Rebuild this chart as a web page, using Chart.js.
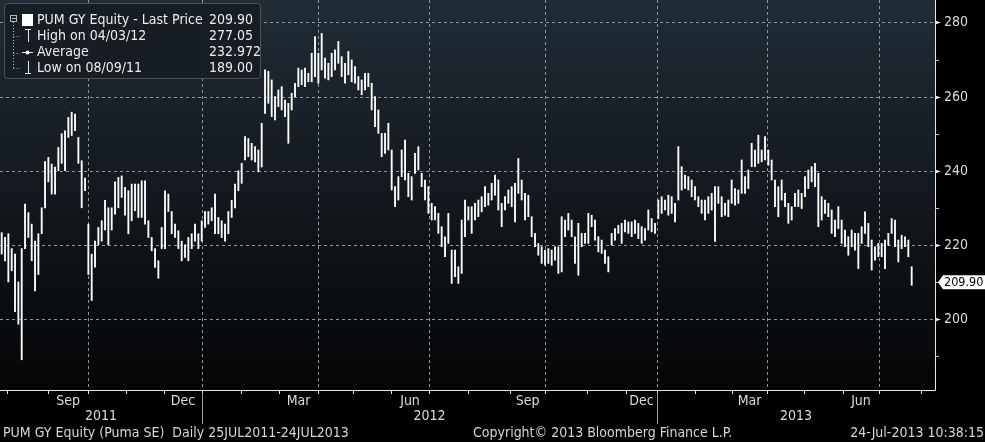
<!DOCTYPE html>
<html>
<head>
<meta charset="utf-8">
<title>PUM GY Equity</title>
<script src="https://cdn.jsdelivr.net/npm/chart.js"></script>
<style>
  html, body { margin: 0; padding: 0; background: #000; }
  canvas { display: block; }
</style>
</head>
<body>
<canvas id="chart" width="985" height="442"></canvas>
<script>
// high / low of each bar (about two trading days per bar), 25JUL2011 - 24JUL2013
const highs = [
  223.3, 222, 223, 219, 217.5, 210, 219, 231, 228.7, 225.6, 221, 223, 230, 242.5, 243.6, 241.8,
  241, 246.3, 250, 250.8, 254.4, 255.8, 255.3, 249, 242.7, 238, 225.6, 217.5, 221, 224.7, 226.5, 232,
  230, 230, 237, 238.2, 238.6, 235.5, 234.6, 236.4, 236.4, 236.4, 237.3, 237.3, 226.5, 222, 219, 215.7,
  224.7, 234.6, 233.7, 229, 225.6, 223.8, 221, 220, 222, 223, 225.6, 223, 226.5, 229, 229, 230,
  233.7, 227.4, 226.5, 225.6, 229, 232, 236.4, 240,
  242, 249.2, 248.7, 247.4, 246.5, 245.6, 252.8, 267.2, 266.8, 264.5, 260, 261.8, 262.7, 259.1, 258.2, 260.9,
  263.6, 267.7, 267.2, 267.7, 266.3, 271.7, 276.2, 271.7, 277.05, 270.4, 269, 271.7, 272.6, 274.9, 270.8, 269,
  272.2, 269.9, 268.1, 265.4, 264.5, 266.3, 266.3, 263.6, 260, 256.4, 250.1, 250.1, 252.8, 245.6, 235.7, 238.4,
  245.6, 248.3, 239.3, 238.4, 244.7, 246.5, 239.3, 237.5, 235.7, 231.2, 230.3, 228.5, 224.9, 222.2, 228.5, 218.6,
  218.6, 214.1, 226.7, 232.1, 230.3, 230.3, 231.2, 232.1,
  233, 235.7, 233.9, 236.6, 238.8, 237.5, 231.2, 233, 234.8, 235.7, 236.6, 243.3, 237.5, 233.9, 233.4, 227.6,
  223.1, 220.4, 219.5, 218.6, 219, 218.6, 219.5, 219.5, 227.6, 226.7, 228.5, 226.7, 222.2, 225.8, 223.1, 223.1,
  228.5, 228, 226.7, 222.2, 221.3, 218.6, 216.8, 223.1, 224.4, 225.3, 225.8, 226.7, 226.2, 226.2, 226.7, 225.8,
  224.9, 224.4, 229.4, 227.1, 225.8, 232.1, 233, 232.1, 233.4, 233, 231.2, 246.5, 241.1, 238.8, 238.4, 237.5,
  235.7, 233, 232.1, 232.1, 233, 233.9, 235.7, 235.7,
  233, 231.2, 232.1, 237.5, 235.2, 234.8, 242.9, 238.4, 240.2, 247.4, 245.6, 249.6, 245.6, 249.2, 245.6, 242.9,
  237.5, 235.7, 237.5, 233.9, 231.2, 230.3, 233.9, 234.8, 233.9, 238.4, 240.2, 241.1, 242, 239.3, 233, 232.1,
  231.2, 229.4, 226.7, 230.3, 226.7, 224, 222.2, 224, 223.1, 223.1, 224.9, 228.9, 225.8, 221.3, 219.5, 220.4,
  220.4, 221.3, 223.1, 227.1, 226.7, 221.3, 222.6, 222.2, 221.3, 214.1
];
const lows = [
  217.5, 215.7, 210, 213, 202, 198.6, 189, 219, 222, 215.7, 207.6, 212, 223, 230, 237, 233.7,
  233.7, 240, 242, 240, 249, 249.5, 250.8, 242, 230, 234.6, 212, 205, 214, 220, 221, 224,
  220, 224, 228.3, 230, 232.8, 228, 223, 226.5, 229.2, 227.4, 227.4, 225.6, 222, 218.4, 213.9, 211,
  219, 219, 229, 223, 222, 219, 215.7, 216.6, 215.7, 219, 221, 219, 221, 224.7, 225.6, 226.5,
  223, 223, 222, 221, 223, 227.4, 230, 234.6,
  236.6, 242.9, 243.8, 242.9, 242.4, 239.7, 241, 255.5, 258.2, 254.6, 253.7, 257.3, 256.4, 254.6, 247.4, 256.4,
  260, 262.7, 263.2, 262.7, 264, 264, 265.4, 263.6, 267.2, 265, 264.5, 265.4, 267.2, 269, 265.4, 263.6,
  265.9, 264, 263.6, 261.8, 260.5, 261.8, 262.7, 256.4, 251.9, 250.1, 243.8, 244.7, 245.6, 234.8, 230.3, 232.1,
  238.4, 237.5, 233, 232.1, 239.3, 240.2, 235.7, 232.1, 228.5, 226.7, 226.7, 223.1, 219.5, 216.8, 220.4, 209.6,
  211.4, 209.6, 212.3, 222.2, 226.7, 223.1, 226.7, 227.6,
  228.9, 230.3, 230.7, 232.1, 233.4, 229.4, 224.9, 229.4, 231.2, 230.3, 226.2, 233.9, 232.1, 226.7, 227.6, 222.2,
  219.5, 217.2, 215, 214.5, 215, 214.5, 215.9, 212.3, 212.7, 222.2, 224, 222.2, 215, 211.8, 219.5, 220.4,
  220.4, 224.9, 221.3, 218.1, 217.7, 215, 212.7, 219.9, 221.3, 223.1, 220.4, 223.5, 223.1, 222.2, 223.1, 221.7,
  220.4, 221.3, 224, 223.5, 223.1, 227.1, 228.5, 229.4, 228, 228.5, 226.2, 232.1, 234.8, 235.2, 234.8, 233,
  232.1, 230.3, 228.5, 226.7, 228.5, 229.4, 220.9, 231.2,
  227.6, 228, 227.6, 231.2, 230.7, 231.2, 233.9, 233.9, 235.2, 241.1, 241.1, 242, 242.4, 242.9, 241.5, 237.5,
  230.3, 227.6, 232.1, 230.3, 225.8, 226.7, 230.3, 230.3, 229.8, 233, 235.2, 237, 235.7, 224.9, 226.7, 228.5,
  227.6, 223.1, 222.2, 224.4, 220.4, 219.5, 217.2, 219.5, 218.6, 213.6, 220.4, 223.1, 219.5, 213.2, 215.9, 216.8,
  216.8, 213.6, 219.9, 223.1, 219.5, 215.4, 219, 219.5, 216.8, 209.1
];

// month starts, in bar positions
const monthNames = ['Aug','Sep','Oct','Nov','Dec','Jan','Feb','Mar','Apr','May','Jun','Jul',
                    'Aug','Sep','Oct','Nov','Dec','Jan','Feb','Mar','Apr','May','Jun','Jul','Aug'];
const monthStarts = [1.6, 13.9, 25.9, 37.3, 48.7, 60.1, 71.8, 83.2, 94.9, 105.4, 116.8, 128.2,
                     139.9, 152.5, 163.0, 175.6, 187.3, 196.6, 208.0, 219.1, 229.6, 240.7, 252.4, 263.2, 275.8];
const years = ['2011', '2012', '2013'];
const yTicks = [200, 220, 240, 260, 280];
const yMinorTicks = [190, 210, 230, 250, 270];

const lastPrice = 209.90;
const legendRows = [
  ['PUM GY Equity - Last Price', '209.90'],
  ['High on 04/03/12', '277.05'],
  ['Average', '232.972'],
  ['Low on 08/09/11', '189.00']
];
const footerLeft = 'PUM GY Equity (Puma SE)  Daily 25JUL2011-24JUL2013';
const footerMid = 'Copyright\u00a9 2013 Bloomberg Finance L.P.';
const footerRight = '24-Jul-2013 10:38:15';

const FONT = '"Liberation Sans Narrow", "DejaVu Sans Condensed", "Liberation Sans", sans-serif';

const bars = highs.map(function(h, i) { return { x: i, y: [lows[i], h] }; });

// background, grid, axes, legend and footer drawn around the bars
const frame = {
  id: 'frame',
  beforeDraw(chart) {
    const ctx = chart.ctx, a = chart.chartArea;
    ctx.save();
    ctx.fillStyle = '#000';
    ctx.fillRect(0, 0, chart.width, chart.height);
    const g = ctx.createLinearGradient(0, a.top, 0, a.bottom);
    g.addColorStop(0, '#212c35');
    g.addColorStop(1, '#040506');
    ctx.fillStyle = g;
    ctx.fillRect(a.left, a.top, a.right - a.left, a.bottom - a.top);
    ctx.restore();
  },
  beforeDatasetsDraw(chart) {
    const ctx = chart.ctx, a = chart.chartArea;
    const x = chart.scales.x, y = chart.scales.y;
    ctx.save();
    ctx.strokeStyle = '#8d949a';
    ctx.lineWidth = 1;
    ctx.setLineDash([3, 3]);
    yTicks.forEach(function(v) {
      const py = Math.round(y.getPixelForValue(v)) + 0.5;
      ctx.beginPath(); ctx.moveTo(a.left, py); ctx.lineTo(a.right, py); ctx.stroke();
    });
    monthNames.forEach(function(m, i) {
      if (['Oct', 'Jan', 'Apr', 'Jul'].indexOf(m) < 0) return;
      const px = Math.round(x.getPixelForValue(monthStarts[i])) + 0.5;
      if (px > a.right) return;
      ctx.beginPath(); ctx.moveTo(px, a.top); ctx.lineTo(px, a.bottom); ctx.stroke();
    });
    ctx.restore();
  },
  afterDraw(chart) {
    const ctx = chart.ctx, a = chart.chartArea;
    const x = chart.scales.x, y = chart.scales.y;
    ctx.save();
    ctx.setLineDash([]);

    // axis lines
    ctx.strokeStyle = '#e6e6e6';
    ctx.lineWidth = 1;
    ctx.beginPath();
    ctx.moveTo(a.left, a.bottom + 0.5); ctx.lineTo(a.right + 0.5, a.bottom + 0.5);
    ctx.lineTo(a.right + 0.5, a.top);
    ctx.stroke();

    // y ticks and labels
    ctx.font = '14px ' + FONT;
    ctx.textBaseline = 'middle';
    ctx.textAlign = 'left';
    yTicks.forEach(function(v) {
      const py = Math.round(y.getPixelForValue(v)) + 0.5;
      ctx.fillStyle = '#e6e6e6';
      ctx.beginPath();
      ctx.moveTo(a.right, py - 2); ctx.lineTo(a.right + 6, py); ctx.lineTo(a.right, py + 2);
      ctx.closePath(); ctx.fill();
      ctx.fillStyle = '#dcdcdc';
      ctx.fillText(String(v), a.right + 9, py);
    });
    ctx.strokeStyle = '#bfbfbf';
    yMinorTicks.forEach(function(v) {
      const py = Math.round(y.getPixelForValue(v)) + 0.5;
      ctx.beginPath(); ctx.moveTo(a.right, py); ctx.lineTo(a.right + 4, py); ctx.stroke();
    });

    // last price tag
    const ty = y.getPixelForValue(lastPrice);
    ctx.fillStyle = '#ffffff';
    ctx.beginPath();
    ctx.moveTo(a.right + 3, ty);
    ctx.lineTo(a.right + 8, ty - 7);
    ctx.lineTo(chart.width, ty - 7);
    ctx.lineTo(chart.width, ty + 7);
    ctx.lineTo(a.right + 8, ty + 7);
    ctx.closePath(); ctx.fill();
    ctx.fillStyle = '#000';
    ctx.font = '12.5px ' + FONT;
    ctx.fillText(lastPrice.toFixed(2), a.right + 9, ty + 0.5);
    ctx.font = '14px ' + FONT;

    // x ticks, month and year labels
    ctx.strokeStyle = '#e6e6e6';
    ctx.textAlign = 'center';
    ctx.fillStyle = '#dcdcdc';
    monthNames.forEach(function(m, i) {
      const px = Math.round(x.getPixelForValue(monthStarts[i])) + 0.5;
      ctx.beginPath(); ctx.moveTo(px, a.bottom); ctx.lineTo(px, a.bottom + 4); ctx.stroke();
      if (['Sep', 'Dec', 'Mar', 'Jun'].indexOf(m) >= 0 && i + 1 < monthStarts.length) {
        const cx = (x.getPixelForValue(monthStarts[i]) + x.getPixelForValue(monthStarts[i + 1])) / 2;
        ctx.fillText(m, cx, a.bottom + 11);
      }
    });
    const yearEdges = [a.left];
    monthNames.forEach(function(m, i) {
      if (m === 'Jan') yearEdges.push(x.getPixelForValue(monthStarts[i]));
    });
    yearEdges.push(a.right);
    ctx.strokeStyle = '#9a9a9a';
    years.forEach(function(yr, i) {
      ctx.fillText(yr, (yearEdges[i] + yearEdges[i + 1]) / 2, a.bottom + 26);
      if (i > 0) {
        const px = Math.round(yearEdges[i]) + 0.5;
        ctx.beginPath(); ctx.moveTo(px, a.bottom + 3); ctx.lineTo(px, a.bottom + 34); ctx.stroke();
      }
    });

    // footer
    ctx.fillStyle = '#d6d6d6';
    ctx.textAlign = 'left';
    ctx.fillText(footerLeft, 3, chart.height - 9);
    ctx.fillText(footerMid, 473, chart.height - 9);
    ctx.textAlign = 'right';
    ctx.fillText(footerRight, chart.width - 1, chart.height - 9);

    // legend box
    ctx.fillStyle = 'rgba(22, 29, 35, 0.92)';
    ctx.strokeStyle = '#4a5259';
    ctx.beginPath();
    ctx.roundRect(4.5, 3.5, 256, 75, 3);
    ctx.fill(); ctx.stroke();

    const rowY = [20.5, 36, 52.5, 68];
    ctx.strokeStyle = '#b8b8b8';
    ctx.setLineDash([1, 2]);
    ctx.beginPath();
    ctx.moveTo(13.5, 22); ctx.lineTo(13.5, rowY[3]);
    for (let r = 1; r < 4; r++) { ctx.moveTo(13.5, Math.round(rowY[r]) + 0.5); ctx.lineTo(20, Math.round(rowY[r]) + 0.5); }
    ctx.stroke();
    ctx.setLineDash([]);
    ctx.strokeRect(10.5, 15.5, 6, 6);
    ctx.beginPath(); ctx.moveTo(12, 18.5); ctx.lineTo(16, 18.5); ctx.stroke();

    ctx.fillStyle = '#ffffff';
    ctx.fillRect(22, 14, 11, 12);
    ctx.strokeStyle = '#e8e8e8';
    ctx.beginPath();
    ctx.moveTo(25, 29.5); ctx.lineTo(31, 29.5); ctx.moveTo(28.5, 29.5); ctx.lineTo(28.5, 42);
    ctx.moveTo(22, 52.5); ctx.lineTo(33, 52.5);
    ctx.moveTo(28.5, 61); ctx.lineTo(28.5, 73.5); ctx.moveTo(25, 73.5); ctx.lineTo(31, 73.5);
    ctx.stroke();
    ctx.beginPath(); ctx.arc(27.5, 52.5, 2, 0, Math.PI * 2); ctx.fill();

    ctx.fillStyle = '#ececec';
    ctx.textAlign = 'left';
    legendRows.forEach(function(row, r) {
      ctx.fillText(row[0], 37, rowY[r]);
      ctx.fillText(row[1], 209, rowY[r]);
    });
    ctx.restore();
  }
};

new Chart(document.getElementById('chart').getContext('2d'), {
  type: 'bar',
  data: {
    datasets: [{
      data: bars,
      backgroundColor: '#ffffff',
      borderWidth: 0,
      barThickness: 1.2,
      grouped: false
    }]
  },
  options: {
    responsive: false,
    animation: false,
    layout: { padding: { left: 0, top: 0, right: 50, bottom: 52 } },
    scales: {
      x: { type: 'linear', display: false, offset: false, min: -0.51, max: 280 },
      y: { display: false, min: 180.84, max: 286.07 }
    },
    plugins: {
      legend: { display: false },
      tooltip: { enabled: false }
    }
  },
  plugins: [frame]
});
</script>
</body>
</html>
